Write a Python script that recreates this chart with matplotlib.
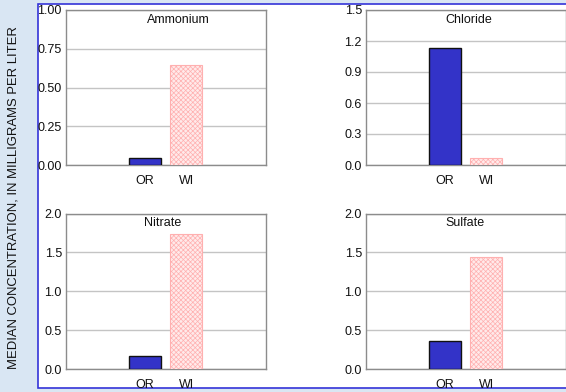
import matplotlib
matplotlib.use("Agg")
import matplotlib.pyplot as plt
from matplotlib.patches import Rectangle
from matplotlib.ticker import FormatStrFormatter

plt.rcParams['font.family'] = ['Liberation Sans', 'DejaVu Sans']
plt.rcParams['hatch.linewidth'] = 0.5
plt.rcParams['hatch.color'] = "#ffb0b0"

# Median concentrations (mg/L) by site
sites = ["OR", "WI"]
constituents = ["Ammonium", "Chloride", "Nitrate", "Sulfate"]
ammonium = [0.043, 0.645]
chloride = [1.135, 0.065]
nitrate = [0.167, 1.73]
sulfate = [0.355, 1.44]
values = [ammonium, chloride, nitrate, sulfate]

y_max = [1.0, 1.5, 2.0, 2.0]
y_step = [0.25, 0.3, 0.5, 0.5]
y_fmt = ["%.2f", "%.1f", "%.1f", "%.1f"]
title_x = [0.56, 0.515, 0.485, 0.495]

W, H = 566, 392
fig = plt.figure(figsize=(W / 100, H / 100), dpi=100)
fig.patch.set_facecolor("#d9e6f3")

# white content panel with a blue frame
panel = Rectangle((38 / W, 1 - 388 / H), 1, (388 - 4) / H, transform=fig.transFigure,
                  facecolor="white", edgecolor="#3434d8", linewidth=1.2, zorder=-10)
fig.patches.append(panel)

fig.text(14 / W, 1 - 198 / H, "MEDIAN CONCENTRATION, IN MILLIGRAMS PER LITER",
         rotation=90, ha="center", va="center", fontsize=9.4, color="#111111")

lefts = [66, 366, 66, 366]
tops = [10, 10, 213.5, 213.5]
bottoms = [165, 165, 369, 369]
ax_w = 200

x = [0, 1]
for i in range(4):
    rect = [lefts[i] / W, 1 - bottoms[i] / H, ax_w / W, (bottoms[i] - tops[i]) / H]
    ax = fig.add_axes(rect)
    ax.set_facecolor("white")
    ax.set_xlim(-1.9, 2.92)
    ax.set_ylim(0, y_max[i])
    n = int(round(y_max[i] / y_step[i]))
    ax.set_yticks([k * y_step[i] for k in range(n + 1)])
    ax.yaxis.set_major_formatter(FormatStrFormatter(y_fmt[i]))
    ax.grid(axis="y", color="#c4c4c4", linewidth=1.0)
    ax.set_axisbelow(True)
    for s in ax.spines.values():
        s.set_color("#8c8c8c")
        s.set_linewidth(1.0)
    ax.tick_params(axis="both", length=0, labelsize=9, colors="#111111", pad=3)
    ax.tick_params(axis="x", pad=7)
    ax.set_xticks(x)
    ax.set_xticklabels(sites)

    ax.bar(x[0], values[i][0], width=0.77, color="#3333c8", edgecolor="#111111",
           linewidth=1.0, zorder=3)
    ax.bar(x[1], values[i][1], width=0.77, color="#ffeaea", edgecolor="#ffb0b0",
           hatch="xxxxxxx", linewidth=0.8, zorder=3)

    ax.text(title_x[i], 0.975, constituents[i], transform=ax.transAxes, ha="center",
            va="top", fontsize=9, color="#111111")

fig.savefig("out.png", dpi=100, facecolor=fig.get_facecolor())
